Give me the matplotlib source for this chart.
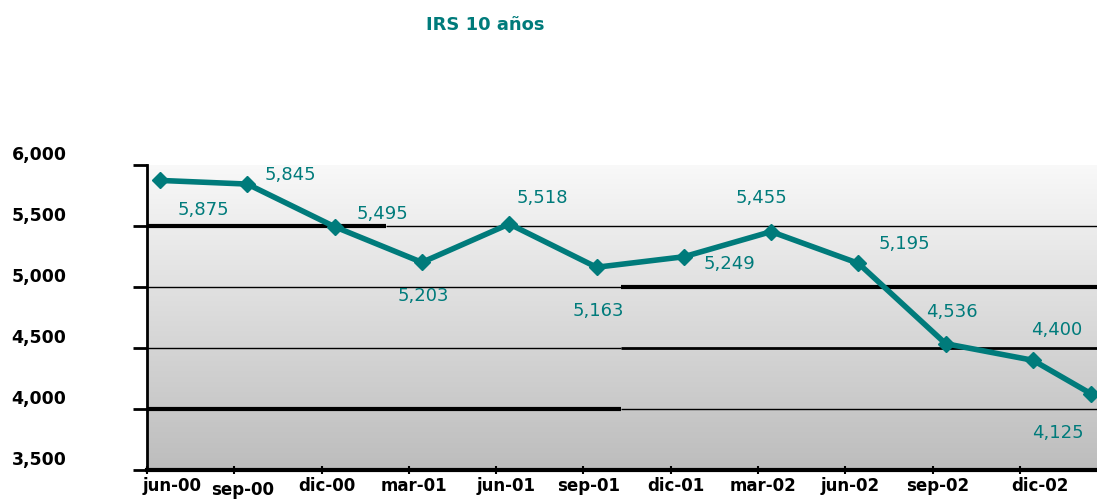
"""IRS 10 años: quarterly rate line with value labels."""

import matplotlib
matplotlib.use("Agg")
import matplotlib.pyplot as plt
import numpy as np
from matplotlib.transforms import ScaledTranslation

TEAL = "#007b7b"

# months elapsed since jun-00 for each observation
months = [0, 3, 6, 9, 12, 15, 18, 21, 24, 27, 30, 32]
values = [5875, 5845, 5495, 5203, 5518, 5163, 5249, 5455, 5195, 4536, 4400, 4125]
value_labels = ["5,875", "5,845", "5,495", "5,203", "5,518", "5,163",
                "5,249", "5,455", "5,195", "4,536", "4,400", "4,125"]

tick_months = [0, 3, 6, 9, 12, 15, 18, 21, 24, 27, 30]
tick_labels = ["jun-00", "sep-00", "dic-00", "mar-01", "jun-01", "sep-01",
               "dic-01", "mar-02", "jun-02", "sep-02", "dic-02"]

y_ticks = [3500, 4000, 4500, 5000, 5500, 6000]
y_tick_labels = ["3,500", "4,000", "4,500", "5,000", "5,500", "6,000"]

# label offsets in pixels (dx, dy) relative to each marker
label_offsets = [(43, -30), (43, 9), (48, 13), (1, -34), (33, 26), (2, -44),
                 (46, -7), (-10, 34), (46, 19), (6, 32), (24, 30), (-33, -39)]

POINT_SHIFT = 0.45  # markers sit a bit right of the tick marks

fig = plt.figure(figsize=(10.97, 4.99), dpi=100)
ax = fig.add_axes([0.134, 0.058, 0.866, 0.611])

xlim = (0, 32.65)
ax.set_xlim(*xlim)
ax.set_ylim(3500, 6000)

# grey gradient background
grad = np.linspace(0, 1, 256).reshape(-1, 1)
top, bot = np.array([0.975, 0.975, 0.975]), np.array([0.74, 0.74, 0.74])
img = top + (bot - top) * grad[:, :, None] * np.ones((1, 1, 3))
ax.imshow(img, extent=(xlim[0], xlim[1], 3500, 6000), aspect="auto", zorder=0)

# broken-looking gridlines of the original
ax.hlines(5500, 0, 8.2, color="black", lw=3, zorder=1)
ax.hlines(5500, 8.2, xlim[1], color="black", lw=1, zorder=1)
ax.hlines(5000, 0, 16.3, color="black", lw=1, zorder=1)
ax.hlines(5000, 16.3, xlim[1], color="black", lw=3, zorder=1)
ax.hlines(4500, 0, 16.3, color="black", lw=1, zorder=1)
ax.hlines(4500, 16.3, xlim[1], color="black", lw=2, zorder=1)
ax.hlines(4000, 0, 16.3, color="black", lw=3, zorder=1)
ax.hlines(4000, 16.3, xlim[1], color="black", lw=1, zorder=1)

x = np.array(months) + POINT_SHIFT
ax.plot(x, values, color=TEAL, lw=4, marker="D", ms=8, zorder=3)

for xi, yi, lab, (dx, dy) in zip(x, values, value_labels, label_offsets):
    ax.annotate(lab, (xi, yi), xytext=(dx, dy), textcoords="offset pixels",
                ha="center", va="center", color=TEAL, fontsize=13, zorder=4)

for side in ("top", "right"):
    ax.spines[side].set_visible(False)
ax.spines["left"].set_linewidth(2)
ax.spines["bottom"].set_linewidth(3)

ax.set_yticks(y_ticks)
ax.set_yticklabels(y_tick_labels, fontsize=12.5, fontweight="bold")
ax.tick_params(axis="y", length=10, width=2, pad=48)
for lab in ax.get_yticklabels():
    lab.set_transform(lab.get_transform() + ScaledTranslation(0, 0.12, fig.dpi_scale_trans))

ax.set_xticks(tick_months)
ax.set_xticklabels(tick_labels, fontsize=12, fontweight="bold")
ax.tick_params(axis="x", length=6, width=1.5, direction="inout", pad=2)
x_label_shift = {"jun-00": (0.25, 0), "sep-00": (0.08, -0.04), "jun-01": (0.1, 0),
                 "dic-02": (0.2, 0)}
for lab in ax.get_xticklabels():
    dx, dy = x_label_shift.get(lab.get_text(), (0.05, 0))
    lab.set_transform(lab.get_transform() + ScaledTranslation(dx, dy, fig.dpi_scale_trans))

fig.text(0.442, 0.95, "IRS 10 años", color=TEAL, fontsize=13, fontweight="bold",
         ha="center", va="center")

fig.savefig("out.png", dpi=100)
